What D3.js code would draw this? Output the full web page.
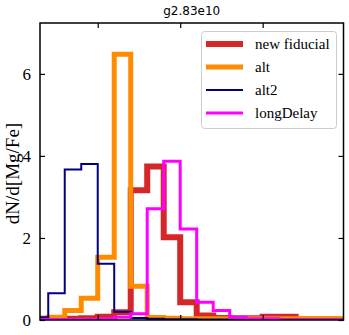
<!DOCTYPE html>
<html>
<head>
<meta charset="utf-8">
<script src="https://cdn.jsdelivr.net/npm/d3@7"></script>
<style>
body { margin: 0; background: #fff; }
</style>
</head>
<body>
<div id="chart"></div>
<script>
// bin left edges in [Mg/Fe], width 0.02
var binEdges = [-0.08,-0.06,-0.04,-0.02,0.00,0.02,0.04,0.06,0.08,0.10,0.12,0.14,0.16,0.18,0.20,0.22,0.24,0.26,0.28,0.30];

var newFiducial = [0.01,0.01,0.03,0.04,0.08,0.19,3.16,3.74,2.02,0.43,0.11,0.05,0.04,0.04,0.08,0.08,0.01,0.01,0.01];
var alt         = [0.05,0.07,0.23,0.53,1.53,6.48,0.82,0.06,0.04,0.03,0.03,0.03,0.03,0.03,0.03,0.03,0.03,0.03,0.03];
var alt2        = [0.07,0.65,3.67,3.80,1.37,0.20,0.05,0.03,0.02,0.02,0.01,0.01,0.01,0.01,0.01,0.01,0.01,0.01,0.01];
var longDelay   = [0.01,0.01,0.01,0.01,0.03,0.07,0.15,2.71,3.87,2.22,0.43,0.23,0.07,0.03,0.03,0.00,0.00,0.00,0.00];

var seriesNames = ["new fiducial","alt","alt2","longDelay"];
var yTicks = [0,2,4,6];
var xTicks = [0,0.1,0.2];

function init(){
    var w = 349, h = 335;
    var left = 40, right = 343.5, top = 23, bottom = 320;

    var series = [
        {name: seriesNames[0], values: newFiducial, color: "#d62728", lw: 6},
        {name: seriesNames[1], values: alt, color: "#ff8c00", lw: 5},
        {name: seriesNames[2], values: alt2, color: "#000080", lw: 2},
        {name: seriesNames[3], values: longDelay, color: "#ff00ff", lw: 3}
    ];

    var xScale = d3.scaleLinear().domain([-0.07, 0.298]).range([left, right]);
    var yScale = d3.scaleLinear().domain([0, 7.24]).range([bottom, top]);

    var svg = d3.select("#chart").append("svg")
        .attr("width", w).attr("height", h);

    svg.append("clipPath").attr("id", "clip")
        .append("rect").attr("x", left).attr("y", top)
        .attr("width", right - left).attr("height", bottom - top);

    // step outline like histtype='step'
    function stepPath(vals){
        var pts = [[binEdges[0], 0]];
        vals.forEach(function(v, i){
            pts.push([binEdges[i], v]);
            pts.push([binEdges[i+1], v]);
        });
        pts.push([binEdges[vals.length], 0]);
        return d3.line().x(function(d){ return xScale(d[0]); })
                        .y(function(d){ return yScale(d[1]); })(pts);
    }

    svg.append("g").attr("clip-path", "url(#clip)")
        .selectAll("path")
        .data(series)
        .enter()
        .append("path")
        .attr("d", function(d){ return stepPath(d.values); })
        .attr("fill", "none")
        .attr("stroke", function(d){ return d.color; })
        .attr("stroke-width", function(d){ return d.lw; })
        .attr("stroke-linejoin", "miter");

    // axes, ticks inward
    var font = "'Liberation Serif', serif";
    var yAxisL = d3.axisLeft(yScale).tickValues(yTicks).tickSizeInner(-5).tickSizeOuter(0).tickPadding(9);
    var yAxisR = d3.axisRight(yScale).tickValues(yTicks).tickSizeInner(-5).tickSizeOuter(0).tickFormat("");
    var xAxisB = d3.axisBottom(xScale).tickValues(xTicks).tickSizeInner(-5).tickSizeOuter(0).tickFormat("");
    var xAxisT = d3.axisTop(xScale).tickValues(xTicks).tickSizeInner(-5).tickSizeOuter(0).tickFormat("");

    svg.append("g").attr("transform", `translate(${left},0)`).call(yAxisL)
        .call(function(g){ g.select(".domain").remove(); })
        .selectAll("text").attr("font-family", font).attr("font-size", 17).attr("fill", "#000");
    svg.append("g").attr("transform", `translate(${right},0)`).call(yAxisR)
        .call(function(g){ g.select(".domain").remove(); });
    svg.append("g").attr("transform", `translate(0,${bottom})`).call(xAxisB)
        .call(function(g){ g.select(".domain").remove(); });
    svg.append("g").attr("transform", `translate(0,${top})`).call(xAxisT)
        .call(function(g){ g.select(".domain").remove(); });
    svg.selectAll(".tick line").attr("stroke", "#000").attr("stroke-width", 1.2);

    svg.append("rect")
        .attr("x", left).attr("y", top)
        .attr("width", right - left).attr("height", bottom - top)
        .attr("fill", "none").attr("stroke", "#000").attr("stroke-width", 1.5);

    svg.append("text")
        .attr("transform", `translate(19,${(top + bottom) / 2 + 2}) rotate(-90)`)
        .attr("text-anchor", "middle")
        .attr("font-family", font).attr("font-size", 19)
        .text("dN/d[Mg/Fe]");

    svg.append("text")
        .attr("x", (left + right) / 2).attr("y", 15)
        .attr("text-anchor", "middle")
        .attr("font-family", "'DejaVu Sans', sans-serif").attr("font-size", 12)
        .text("g2.83e10");

    // legend
    var lg = svg.append("g");
    lg.append("rect")
        .attr("x", 201.5).attr("y", 31.5).attr("width", 135).attr("height", 97)
        .attr("rx", 3).attr("fill", "#fff").attr("fill-opacity", 0.8)
        .attr("stroke", "#ccc").attr("stroke-width", 1);
    var rows = lg.selectAll("g.row").data(series).enter().append("g")
        .attr("transform", function(d, i){ return `translate(0,${44 + i * 23})`; });
    rows.append("line")
        .attr("x1", 206).attr("x2", 243)
        .attr("stroke", function(d){ return d.color; })
        .attr("stroke-width", function(d){ return d.lw; });
    rows.append("text")
        .attr("x", 255).attr("y", 5)
        .attr("font-family", font).attr("font-size", 15)
        .text(function(d){ return d.name; });
}
window.onload = init;
</script>
</body>
</html>
